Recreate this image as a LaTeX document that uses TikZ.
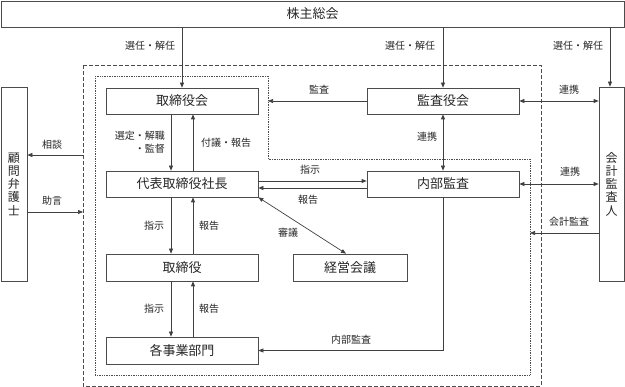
\documentclass[tikz,border=0pt]{standalone}
\usepackage{fontspec}
\setmainfont{Noto Sans CJK JP}
\usetikzlibrary{arrows.meta}
\begin{document}
\begin{tikzpicture}[x=1pt,y=-1pt,
  box/.style={draw=black!70, line width=0.7pt, inner sep=0pt, font=\fontsize{13}{15}\selectfont, text=black!85},
  lbl/.style={inner sep=0pt, font=\fontsize{10}{13}\selectfont, text=black!85},
  arr/.style={draw=black!75, line width=0.7pt, -{Triangle[length=5pt,width=4pt]}},
  arrb/.style={draw=black!75, line width=0.7pt, {Triangle[length=5pt,width=4pt]}-{Triangle[length=5pt,width=4pt]}},
  ln/.style={draw=black!75, line width=0.7pt}]
\useasboundingbox (0,0) rectangle (625,387);
% frames
\coordinate (dashTL) at (83,65);
\coordinate (dashBR) at (541,386);
\coordinate (dotTL) at (95,76);
\coordinate (dotTR) at (268,76);
\coordinate (dotM) at (268,159);
\coordinate (dotMR) at (530,159);
\coordinate (dotBR) at (530,375);
\coordinate (dotBL) at (95,375);
\draw[black!70, line width=0.7pt, dash pattern=on 4pt off 2pt] (dashTL) rectangle (dashBR);
\draw[black!70, line width=0.7pt, dash pattern=on 0.8pt off 0.9pt] (dotTL) -- (dotTR) -- (dotM) -- (dotMR) -- (dotBR) -- (dotBL) -- cycle;
% nodes
\node[box, minimum width=623pt, minimum height=26pt] (kabu) at (312.5,14) {株主総会};
\node[box, minimum width=26pt, minimum height=194pt, align=center, font=\fontsize{12}{13.3}\selectfont] (komon) at (14,184) {顧\\問\\弁\\護\\士};
\node[box, minimum width=25pt, minimum height=194pt, align=center, font=\fontsize{12}{13.3}\selectfont] (kaikei) at (611.5,184) {会\\計\\監\\査\\人};
\node[box, minimum width=152pt, minimum height=26pt] (torikai) at (182,101) {取締役会};
\node[box, minimum width=152pt, minimum height=26pt] (kansa) at (443,101) {監査役会};
\node[box, minimum width=152pt, minimum height=26pt] (daihyo) at (182,184) {代表取締役社長};
\node[box, minimum width=152pt, minimum height=26pt] (naibu) at (443,184) {内部監査};
\node[box, minimum width=152pt, minimum height=27pt] (tori) at (182,267.5) {取締役};
\node[box, minimum width=114pt, minimum height=27pt] (keiei) at (350,267.5) {経営会議};
\node[box, minimum width=152pt, minimum height=27pt] (kaku) at (182,350.5) {各事業部門};
% connectors from shareholders
\draw[arr] (kabu.south -| torikai.north) -- (torikai.north);
\draw[arr] (kabu.south -| kansa.north) -- (kansa.north);
\draw[arr] ([xshift=-1.5pt]kabu.south -| kaikei.north) -- ([xshift=-1.5pt]kaikei.north);
\node[lbl] (l1) at (150,46) {選任・解任};
\node[lbl] (l2) at (410,46) {選任・解任};
\node[lbl] (l3) at (578,46) {選任・解任};
% audit board
\draw[arr] (kansa.west) -- (kansa.west -| dotTR);
\node[lbl] (l4) at (319,90) {監査};
\draw[arrb] (kansa.east) -- (kansa.east -| kaikei.west);
\node[lbl] (l5) at (569,90) {連携};
\draw[arrb] (kansa.south) -- (naibu.north);
\node[lbl] (l6) at (427,137) {連携};
\draw[arrb] (naibu.east) -- (naibu.east -| kaikei.west);
\node[lbl] (l7) at (570,172) {連携};
\coordinate (kaA) at (599,233);
\draw[arr] (kaA) -- (kaA -| dotBR);
\node[lbl] (l8) at (569,222) {会計監査};
% lawyer
\coordinate (soudan) at (83,155);
\coordinate (jogen) at (83,212);
\draw[arr] (soudan) -- (soudan -| komon.east);
\draw[arr] (jogen -| komon.east) -- (jogen);
\node[lbl] (l9) at (52,145) {相談};
\node[lbl] (l10) at (52,201) {助言};
% board <-> president
\draw[arr] ([xshift=-11pt]torikai.south) -- ([xshift=-11pt]daihyo.north);
\draw[arr] ([xshift=11pt]daihyo.north) -- ([xshift=11pt]torikai.south);
\node[lbl, anchor=east, align=right] (l11) at (165,142.5) {選定・解職\\・監督};
\node[lbl] (l12) at (226,143) {付議・報告};
% president <-> directors
\draw[arr] ([xshift=-11pt]daihyo.south) -- ([xshift=-11pt]tori.north);
\draw[arr] ([xshift=11pt]tori.north) -- ([xshift=11pt]daihyo.south);
\node[lbl] (l13) at (154,226) {指示};
\node[lbl] (l14) at (209,226) {報告};
% directors <-> departments
\draw[arr] ([xshift=-11pt]tori.south) -- ([xshift=-11pt]kaku.north);
\draw[arr] ([xshift=11pt]kaku.north) -- ([xshift=11pt]tori.south);
\node[lbl] (l15) at (154,309) {指示};
\node[lbl] (l16) at (209,309) {報告};
% president <-> internal audit
\draw[arr] ([yshift=3pt]daihyo.east) -- ([yshift=3pt]naibu.west);
\draw[arr] ([yshift=-4pt]naibu.west) -- ([yshift=-4pt]daihyo.east);
\node[lbl] (l17) at (310,170) {指示};
\node[lbl] (l18) at (308,200) {報告};
% deliberation
\draw[arrb] (daihyo.south east) -- ([xshift=-4pt]keiei.north);
\node[lbl] (l19) at (288,233) {審議};
% internal audit -> departments
\draw[arr] (naibu.south) |- (kaku.east);
\node[lbl] (l20) at (351,340) {内部監査};
\end{tikzpicture}
\end{document}
